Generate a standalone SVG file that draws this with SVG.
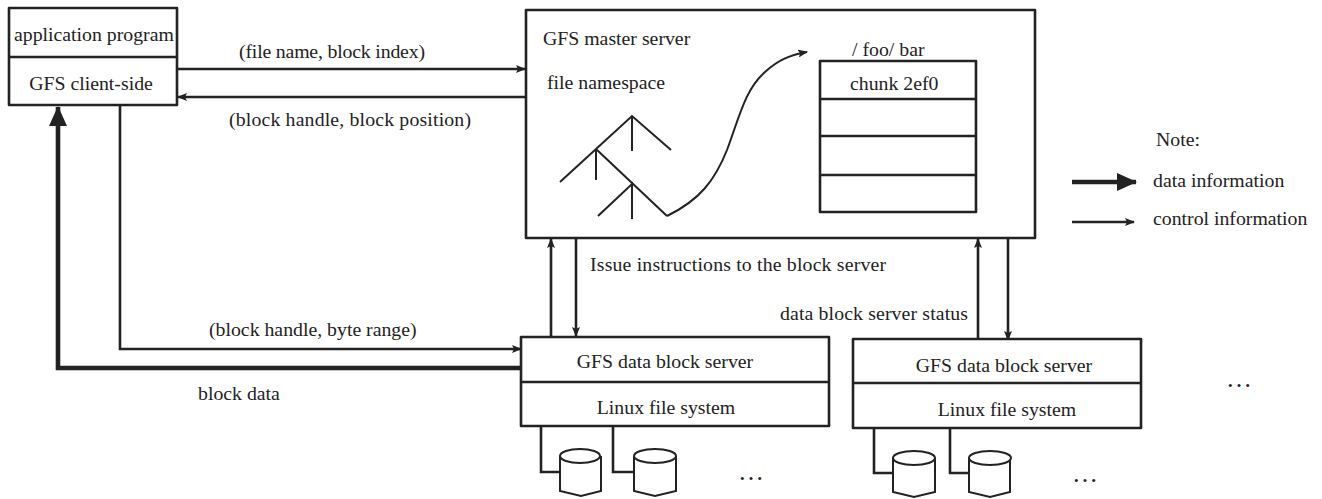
<svg xmlns="http://www.w3.org/2000/svg" width="1322" height="499" viewBox="0 0 1322 499">
<style>
text{font-family:"Liberation Serif","Times New Roman",serif;font-size:19.8px;fill:#222}
.b{fill:#fff;stroke:#222;stroke-width:2.6;stroke-linejoin:round}
.l{fill:none;stroke:#222;stroke-width:2.4}
.t{fill:none;stroke:#222;stroke-width:2}
.c{stroke-width:2.6;stroke:#222;fill:none}
.d{stroke-width:4.6;stroke:#222;fill:none}
.m{text-anchor:middle}
.e{font-size:26px}
.disk{fill:#fff;stroke:#222;stroke-width:2}
</style>
<defs>
<marker id="ac" markerUnits="userSpaceOnUse" markerWidth="10" markerHeight="8" refX="9" refY="4" orient="auto"><path d="M0 0L10 4L0 8L2 4Z" fill="#222"/></marker>
<marker id="ad" markerUnits="userSpaceOnUse" markerWidth="20" markerHeight="18" refX="19" refY="9" orient="auto"><path d="M0 0L20 9L0 18Z" fill="#222"/></marker>
</defs>
<rect width="1322" height="499" fill="#fff"/>
<g id="connectors">
<path class="c" marker-end="url(#ac)" d="M177 69H525"/>
<path class="c" marker-end="url(#ac)" d="M525 97H178"/>
<path class="d" marker-end="url(#ad)" d="M521 368H58V107"/>
<path class="c" marker-end="url(#ac)" d="M120 106V349H521"/>
<path class="c" marker-end="url(#ac)" d="M551 336V239"/>
<path class="c" marker-end="url(#ac)" d="M576 239V336"/>
<path class="c" marker-end="url(#ac)" d="M978 338V239"/>
<path class="c" marker-end="url(#ac)" d="M1008 239V340"/>
<path class="c" d="M541 426V472H560M613 426V472H634"/>
<path class="c" d="M874 428V473H893M950 428V473H969"/>
</g>
<g id="application-client">
<rect class="b" x="9" y="8" width="168" height="97"/>
<path class="l" d="M9 57H177"/>
<text x="14" y="41">application program</text>
<text x="91" y="90" class="m">GFS client-side</text>
</g>
<g id="master-server">
<rect class="b" x="526" y="10" width="509" height="228"/>
<text x="543" y="45">GFS master server</text>
<text x="547" y="89">file namespace</text>
<path class="t" d="M560 182L632 116L671 150M632 116V151M596 149V180M596 149L667 216M598 216L632 184V219"/>
<path class="t" marker-end="url(#ac)" d="M667 216C700 200 715 180 727 150C740 115 745 90 765 72C778 60 790 55 807 52"/>
<text x="852" y="56">/ foo/ bar</text>
<g>
<rect class="b" x="820" y="61" width="156" height="151"/>
<path class="l" d="M820 99H976M820 136H976M820 175H976"/>
<text x="850" y="90">chunk 2ef0</text>
</g>
</g>
<g id="data-block-server-1">
<rect class="b" x="521" y="337" width="308" height="89"/>
<path class="l" d="M521 382H829"/>
<text x="665" y="368" class="m">GFS data block server</text>
<text x="666" y="414" class="m">Linux file system</text>
<path class="disk" d="M560 456V491L581 496L601 491V456"/>
<ellipse class="disk" cx="580" cy="456" rx="20" ry="7"/>
<path class="disk" d="M634 456V491L655 496L676 491V456"/>
<ellipse class="disk" cx="655" cy="456" rx="21" ry="7"/>
<text x="738" y="480" class="e">…</text>
</g>
<g id="data-block-server-2">
<rect class="b" x="853" y="339" width="288" height="89"/>
<path class="l" d="M853 383H1141"/>
<text x="1004" y="372" class="m">GFS data block server</text>
<text x="1007" y="416" class="m">Linux file system</text>
<path class="disk" d="M893 458V492L914 497L935 492V458"/>
<ellipse class="disk" cx="914" cy="458" rx="21" ry="7"/>
<path class="disk" d="M969 458V492L990 497L1010 492V458"/>
<ellipse class="disk" cx="990" cy="458" rx="21" ry="7"/>
<text x="1072" y="482" class="e">…</text>
</g>
<g id="labels">
<text x="239" y="58" textLength="186">(file name, block index)</text>
<text x="229" y="126" textLength="242">(block handle, block position)</text>
<text x="590" y="271" textLength="296">Issue instructions to the block server</text>
<text x="780" y="320" textLength="188">data block server status</text>
<text x="209" y="336">(block handle, byte range)</text>
<text x="198" y="400">block data</text>
<text x="1226" y="387" class="e">…</text>
</g>
<g id="legend">
<text x="1156" y="146">Note:</text>
<text x="1153" y="187">data information</text>
<text x="1153" y="225">control information</text>
<path class="d" marker-end="url(#ad)" d="M1072 182H1136"/>
<path class="c" marker-end="url(#ac)" d="M1072 222H1134"/>
</g>
</svg>
